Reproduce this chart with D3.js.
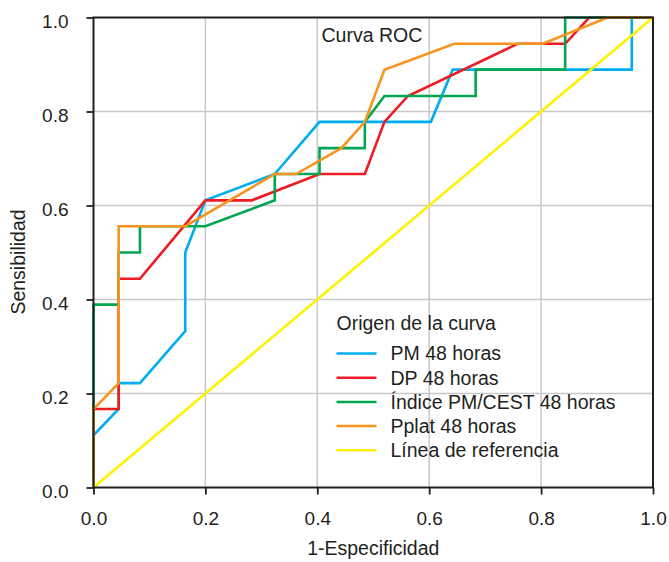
<!DOCTYPE html>
<html>
<head>
<meta charset="utf-8">
<script src="https://cdn.jsdelivr.net/npm/d3@7"></script>
<style>
  body { margin: 0; background: #fff; }
  svg text { font-family: "Liberation Sans", Arial, sans-serif; fill: #231f20; }
</style>
</head>
<body>
<svg id="grafico"></svg>
<script>
const WIDTH = 669,
    HEIGHT = 562;

const margin = { top: 17.5, right: 16, bottom: 74.5, left: 93.5 };

// datos (1-especificidad, sensibilidad)
const curvaPM = [[0, 0], [0, 0.111], [0.045, 0.167], [0.045, 0.222], [0.083, 0.222], [0.164, 0.333], [0.164, 0.5],
    [0.2, 0.611], [0.324, 0.667], [0.404, 0.778], [0.603, 0.778], [0.642, 0.889], [0.962, 0.889], [0.962, 1], [1, 1]];
const curvaDP = [[0, 0], [0, 0.167], [0.045, 0.167], [0.045, 0.444], [0.083, 0.444], [0.2, 0.611], [0.283, 0.611],
    [0.404, 0.667], [0.485, 0.667], [0.52, 0.778], [0.562, 0.833], [0.758, 0.944], [0.843, 0.944], [0.886, 1], [1, 1]];
const curvaIndice = [[0, 0], [0, 0.389], [0.045, 0.389], [0.045, 0.5], [0.083, 0.5], [0.083, 0.556], [0.2, 0.556],
    [0.324, 0.611], [0.324, 0.667], [0.404, 0.667], [0.404, 0.722], [0.485, 0.722], [0.485, 0.778], [0.52, 0.833],
    [0.683, 0.833], [0.683, 0.889], [0.843, 0.889], [0.843, 1], [1, 1]];
const curvaPplat = [[0, 0], [0, 0.167], [0.045, 0.222], [0.045, 0.556], [0.164, 0.556], [0.324, 0.667], [0.362, 0.667],
    [0.443, 0.722], [0.485, 0.778], [0.52, 0.889], [0.645, 0.944], [0.803, 0.944], [0.919, 1], [1, 1]];
const referencia = [[0, 0], [1, 1]];

const nombres = ["PM 48 horas", "DP 48 horas", "Índice PM/CEST 48 horas", "Pplat 48 horas", "Línea de referencia"];
const colores = ["#00aeef", "#ed1c24", "#00a651", "#f7941d", "#fff200"];
const ticks = [0, 0.2, 0.4, 0.6, 0.8, 1.0];

const series = [curvaPM, curvaDP, curvaIndice, curvaPplat, referencia];

const svg = d3.select("#grafico")
    .attr("width", WIDTH)
    .attr("height", HEIGHT);

const x = d3.scaleLinear().domain([0, 1]).range([margin.left, WIDTH - margin.right]);
const y = d3.scaleLinear().domain([0, 1]).range([HEIGHT - margin.bottom, margin.top]);

// rejilla
svg.append("g")
    .selectAll("line")
    .data(ticks.slice(1, -1))
    .join("line")
    .attr("x1", d => x(d)).attr("x2", d => x(d))
    .attr("y1", y(0)).attr("y2", y(1))
    .attr("stroke", "#c8c8c8").attr("stroke-width", 1.5);

svg.append("g")
    .selectAll("line")
    .data(ticks.slice(1, -1))
    .join("line")
    .attr("x1", x(0)).attr("x2", x(1))
    .attr("y1", d => y(d)).attr("y2", d => y(d))
    .attr("stroke", "#c8c8c8").attr("stroke-width", 1.5);

// leyenda (detras de las curvas)
const leyenda = svg.append("g");
leyenda.append("text")
    .attr("x", 336.5).attr("y", 330)
    .attr("font-size", "19.5px")
    .text("Origen de la curva");

const filas = leyenda.selectAll("g.fila")
    .data(nombres)
    .join("g")
    .attr("transform", (d, i) => `translate(336.5 ${353.5 + i * 24.2})`);

filas.append("line")
    .attr("x1", 0).attr("x2", 40)
    .attr("stroke", (d, i) => colores[i])
    .attr("stroke-width", 2.5);

filas.append("text")
    .attr("x", 54).attr("y", 6.8)
    .attr("font-size", "19.5px")
    .text(d => d);

// curvas
const linea = d3.line()
    .x(d => x(d[0]))
    .y(d => y(d[1]));

svg.append("g")
    .selectAll("path")
    .data(series)
    .join("path")
    .attr("d", linea)
    .attr("fill", "none")
    .attr("stroke", (d, i) => colores[i])
    .attr("stroke-width", 2.6)
    .attr("stroke-linejoin", "miter");

// marco
svg.append("rect")
    .attr("x", x(0)).attr("y", y(1))
    .attr("width", x(1) - x(0)).attr("height", y(0) - y(1))
    .attr("fill", "none")
    .attr("stroke", "#231f20")
    .attr("stroke-width", 2);

// ejes
const ejeX = d3.axisBottom(x).tickValues(ticks).tickFormat(d3.format(".1f")).tickSize(7).tickPadding(17);
const ejeY = d3.axisLeft(y).tickValues(ticks).tickFormat(d3.format(".1f")).tickSize(7).tickPadding(18);

const gx = svg.append("g")
    .attr("transform", `translate(0 ${y(0)})`)
    .call(ejeX);
const gy = svg.append("g")
    .attr("transform", `translate(${x(0)} 0)`)
    .call(ejeY);

[gx, gy].forEach(g => {
    g.select(".domain").remove();
    g.selectAll(".tick line").attr("stroke", "#231f20").attr("stroke-width", 1.8);
    g.selectAll(".tick text")
        .attr("font-size", "19px")
        .attr("font-family", "Liberation Sans, Arial, sans-serif")
        .attr("fill", "#231f20");
});
gy.selectAll(".tick text").attr("dy", "0.5em");

// titulos
svg.append("text")
    .attr("x", (x(0) + x(1)) / 2).attr("y", 555)
    .attr("text-anchor", "middle")
    .attr("font-size", "19.5px")
    .text("1-Especificidad");

svg.append("text")
    .attr("transform", `translate(25 ${262}) rotate(-90)`)
    .attr("text-anchor", "middle")
    .attr("font-size", "19.5px")
    .text("Sensibilidad");

svg.append("text")
    .attr("x", 321.5).attr("y", 41.5)
    .attr("font-size", "19.5px")
    .text("Curva ROC");
</script>
</body>
</html>
